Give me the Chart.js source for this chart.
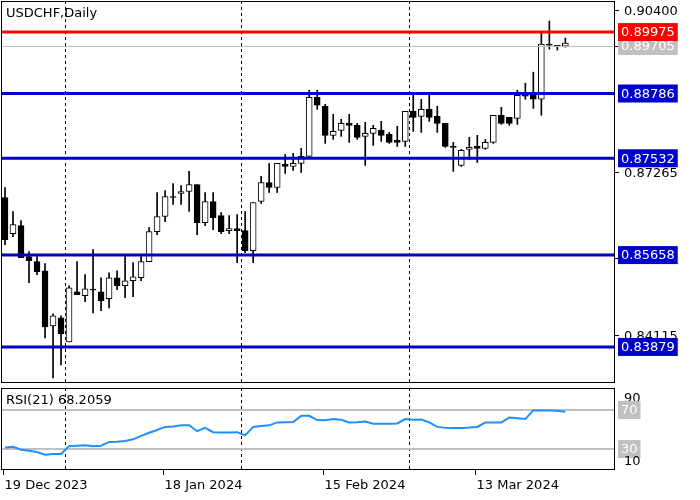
<!DOCTYPE html>
<html><head><meta charset="utf-8">
<script src="https://cdn.jsdelivr.net/npm/chart.js@4/dist/chart.umd.min.js"></script>
<style>
html,body{margin:0;padding:0;background:#fff;width:700px;height:500px;overflow:hidden}
#w1{position:absolute;left:0;top:0;width:700px;height:385px}
#w2{position:absolute;left:0;top:385px;width:700px;height:115px}
</style></head><body>
<div id="w1"><canvas id="c1"></canvas></div>
<div id="w2"><canvas id="c2"></canvas></div>
<script>
const symbolTitle = "USDCHF,Daily";
const opens  = [.86772,.86074,.86229,.85627,.85530,.85355,.84288,.84443,.83977,.84948,.84870,.84986,.84948,.84812,.85219,.85064,.85161,.85219,.85530,.86113,.86404,.86792,.86850,.86889,.87025,.86287,.86695,.86423,.86132,.86171,.86132,.85744,.86695,.87063,.86966,.87413,.87374,.87432,.87568,.88713,.88539,.87976,.88073,.88209,.88170,.87956,.88014,.88073,.87995,.87879,.87859,.88441,.88344,.88480,.88344,.88209,.87762,.87394,.87704,.87762,.87724,.87840,.88364,.88325,.88306,.88771,.88752,.88674,.89742,.89703,.89703];
const highs  = [.86966,.86501,.86326,.85724,.85627,.85491,.84520,.84482,.85064,.85530,.85278,.85763,.85219,.85316,.85355,.85627,.85511,.85627,.86190,.86869,.86908,.87044,.87005,.87277,.87025,.86869,.86869,.86481,.86423,.86443,.86501,.86675,.87180,.87432,.87432,.87607,.87626,.87724,.88849,.88849,.88577,.88383,.88286,.88383,.88209,.88228,.88170,.88247,.88034,.88150,.88441,.88810,.88674,.88752,.88539,.88209,.87840,.87704,.87937,.87976,.87898,.88364,.88519,.88325,.88849,.88985,.89199,.89975,.90189,.89703,.89859];
const lows   = [.85860,.86015,.85608,.85122,.85278,.84055,.83279,.83531,.83977,.84890,.84754,.84540,.84579,.84637,.84986,.84831,.84851,.85161,.85530,.86054,.86306,.86637,.86637,.86501,.86054,.86229,.86151,.86074,.86074,.85511,.85705,.85511,.86656,.86869,.86869,.87238,.87297,.87258,.87568,.88480,.87820,.87898,.87956,.87840,.87898,.87394,.87782,.87859,.87820,.87762,.87762,.88053,.88034,.88247,.88034,.87743,.87277,.87374,.87510,.87451,.87704,.87820,.88189,.88170,.88189,.88674,.88500,.88364,.89645,.89626,.89684];
const closes = [.85957,.86248,.85608,.85549,.85336,.84268,.84482,.84132,.85025,.84890,.85006,.84980,.84773,.85219,.85064,.85161,.85239,.85530,.86113,.86404,.86792,.86772,.86889,.87025,.86287,.86695,.86384,.86113,.86171,.86132,.85744,.86675,.87063,.86966,.87432,.87374,.87432,.87568,.88713,.88558,.87976,.88053,.88209,.88170,.87937,.88014,.88112,.87976,.87840,.87840,.88441,.88325,.88480,.88325,.88209,.87762,.87743,.87685,.87743,.87724,.87840,.88364,.88209,.88209,.88752,.88733,.88674,.89742,.89723,.89700,.89761];
const rsiValues = [31.7,32.3,29.3,28.3,27,24.3,25,25,33,33.5,34,33,33.5,37.3,37.5,38.3,40,43.5,46.7,49.5,52.7,53,54.3,54.5,48.3,51.7,47.3,47,47,47.3,44,52.7,53.5,54.3,57.3,57.5,57.7,64,64,59.7,59.5,60.7,60,57.3,57.5,58.3,56,56,56,56.2,60.7,60,60.3,57.3,52.7,51.7,51.5,51.7,52,52.7,57.3,57.3,57.3,62.3,61.5,60.7,69.7,69.5,69.5,69.3,68.2];
const rsiTitle = "RSI(21) 68.2059";
const priceTicks = [0.90400, 0.89705, 0.87265, 0.85610, 0.84115];
const lastPrice = 0.89705;
const redLevels = [0.89975];
const blueLevels = [0.88786, 0.87532, 0.85658, 0.83879];
const rsiLevels = [70, 30];
const rsiTickLabels = [90, 70, 30, 10];
const dateTickIndex = [0, 20, 40, 59];
const dateTickLabels = ["19 Dec 2023", "18 Jan 2024", "15 Feb 2024", "13 Mar 2024"];
const monthSeparators = [7.5, 29.5, 50.5];

const FONT = '13px "DejaVu Sans"';
const xMin = -0.5, xMax = 76.2;
const idx = opens.map((_, i) => i);

function vlines(chart){
  const {ctx, chartArea:a, scales:{x}} = chart;
  ctx.save(); ctx.strokeStyle='#000'; ctx.lineWidth=1; ctx.setLineDash([3,3]);
  monthSeparators.forEach(v=>{const px=Math.round(x.getPixelForValue(v))+0.5;ctx.beginPath();ctx.moveTo(px,a.top);ctx.lineTo(px,a.bottom);ctx.stroke();});
  ctx.restore();
}
function frame(chart){
  const {ctx, chartArea:a} = chart;
  ctx.save(); ctx.strokeStyle='#000'; ctx.lineWidth=1;
  ctx.strokeRect(a.left+0.5,a.top+0.5,a.right-a.left-1,a.bottom-a.top-1);
  ctx.restore();
}
function tagLabel(ctx, x, y, txt, bg, fg){
  ctx.font = FONT;
  const w = ctx.measureText(txt).width + 6;
  ctx.fillStyle=bg; ctx.fillRect(x, y-9, w, 18);
  ctx.fillStyle=fg; ctx.textBaseline='middle'; ctx.textAlign='left'; ctx.fillText(txt, x+3, y+1);
}

const mainPlugin = {
  id:'mainP',
  beforeDatasetsDraw(chart){ vlines(chart); },
  afterDatasetsDraw(chart){
    const {ctx, chartArea:a, scales:{y}} = chart;
    ctx.save();
    let py = Math.round(y.getPixelForValue(lastPrice))+0.5;
    ctx.strokeStyle='#c0c0c0'; ctx.lineWidth=1; ctx.beginPath(); ctx.moveTo(a.left,py); ctx.lineTo(a.right,py); ctx.stroke();
    ctx.lineWidth=3;
    redLevels.forEach(v=>{const p=y.getPixelForValue(v);ctx.strokeStyle='#ff0000';ctx.beginPath();ctx.moveTo(a.left,p);ctx.lineTo(a.right,p);ctx.stroke();});
    blueLevels.forEach(v=>{const p=y.getPixelForValue(v);ctx.strokeStyle='#0000cd';ctx.beginPath();ctx.moveTo(a.left,p);ctx.lineTo(a.right,p);ctx.stroke();});
    ctx.restore();
  },
  afterDraw(chart){
    const {ctx, chartArea:a, scales:{y}} = chart;
    frame(chart);
    ctx.save();
    ctx.font=FONT; ctx.fillStyle='#000'; ctx.textBaseline='middle'; ctx.textAlign='left';
    ctx.fillText(symbolTitle, a.left+5, a.top+13);
    priceTicks.forEach(v=>{const p=Math.round(y.getPixelForValue(v))+0.5;
      ctx.strokeStyle='#000';ctx.lineWidth=1;ctx.beginPath();ctx.moveTo(a.right,p);ctx.lineTo(a.right+4,p);ctx.stroke();
      ctx.fillStyle='#000';ctx.fillText(v.toFixed(5), a.right+9, p+1);});
    tagLabel(ctx, a.right+3, y.getPixelForValue(lastPrice), lastPrice.toFixed(5), '#c0c0c0', '#fff');
    redLevels.forEach(v=>tagLabel(ctx, a.right+3, y.getPixelForValue(v), v.toFixed(5), '#ff0000', '#fff'));
    blueLevels.forEach(v=>tagLabel(ctx, a.right+3, y.getPixelForValue(v), v.toFixed(5), '#0000cd', '#fff'));
    ctx.restore();
  }
};

new Chart(document.getElementById('c1'), {
  type:'bar',
  data:{datasets:[
    {label:'body', order:0, grouped:false, data: idx.map(i=>({x:i,y:[opens[i],closes[i]]})),
     backgroundColor: idx.map(i=>closes[i]<opens[i]?'#000':'#fff'), borderColor:'#000', borderWidth:1,
     borderSkipped:false, barThickness:6, minBarLength:1},
    {label:'wick', order:1, grouped:false, data: idx.map(i=>({x:i,y:[lows[i],highs[i]]})),
     backgroundColor:'#000', borderWidth:0, barThickness:1}
  ]},
  options:{responsive:true, maintainAspectRatio:false, animation:false,
    layout:{padding:{left:1,top:1,right:85,bottom:2}},
    plugins:{legend:{display:false}, tooltip:{enabled:false}},
    scales:{
      x:{type:'linear', min:xMin, max:xMax, offset:false, display:false},
      y:{type:'linear', min:0.83181, max:0.90577, display:false}
    }},
  plugins:[mainPlugin]
});

const rsiPlugin = {
  id:'rsiP',
  beforeDatasetsDraw(chart){
    const {ctx, chartArea:a, scales:{y}} = chart;
    vlines(chart);
    ctx.save(); ctx.strokeStyle='#c0c0c0'; ctx.lineWidth=2;
    rsiLevels.forEach(v=>{const p=y.getPixelForValue(v);ctx.beginPath();ctx.moveTo(a.left,p);ctx.lineTo(a.right,p);ctx.stroke();});
    ctx.restore();
  },
  afterDraw(chart){
    const {ctx, chartArea:a, scales:{x,y}} = chart;
    frame(chart);
    ctx.save(); ctx.font=FONT; ctx.textBaseline='middle'; ctx.textAlign='left';
    ctx.fillStyle='#000'; ctx.fillText(rsiTitle, a.left+5, a.top+13);
    rsiTickLabels.forEach(v=>{
      let p=y.getPixelForValue(v);
      if(v===90) p=a.top+10; if(v===10) p=a.bottom-9;
      if(rsiLevels.includes(v)){ tagLabel(ctx, a.right+3, p, String(v), '#c0c0c0', '#fff'); }
      else { ctx.fillStyle='#000'; ctx.fillText(String(v), a.right+9, p+1); }
    });
    dateTickIndex.forEach((ix,k)=>{
      const px=Math.round(x.getPixelForValue(ix))-1.5;
      ctx.strokeStyle='#000';ctx.lineWidth=1;ctx.beginPath();ctx.moveTo(px,a.bottom);ctx.lineTo(px,a.bottom+5);ctx.stroke();
      ctx.fillStyle='#000'; ctx.fillText(dateTickLabels[k], px+1, a.bottom+16);
    });
    ctx.restore();
  }
};

new Chart(document.getElementById('c2'), {
  type:'line',
  data:{datasets:[{data: idx.map(i=>({x:i,y:rsiValues[i]})), borderColor:'#1e90ff', borderWidth:2, pointRadius:0, tension:0}]},
  options:{responsive:true, maintainAspectRatio:false, animation:false,
    layout:{padding:{left:1,top:3,right:85,bottom:30}},
    plugins:{legend:{display:false}, tooltip:{enabled:false}},
    scales:{
      x:{type:'linear', min:xMin, max:xMax, display:false},
      y:{type:'linear', min:8.6, max:92.5, display:false}
    }},
  plugins:[rsiPlugin]
});
</script>
</body></html>
